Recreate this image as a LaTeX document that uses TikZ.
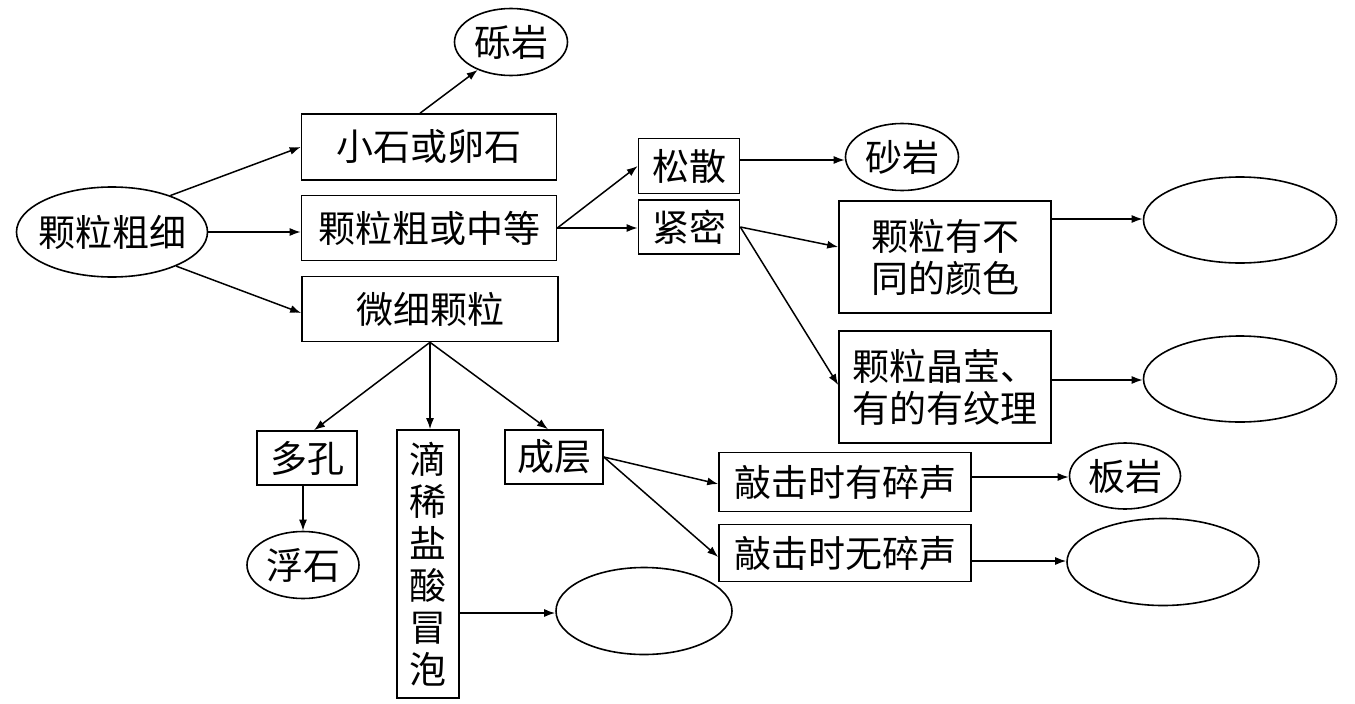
\documentclass[tikz,border=0pt]{standalone}
\usepackage{fontspec}
\newfontfamily\cjk{Noto Sans CJK SC}
\usetikzlibrary{shapes.geometric,arrows.meta}
\begin{document}
\begin{tikzpicture}[x=1pt,y=-1pt,
  every node/.style={font=\cjk\fontsize{37}{42}\selectfont, inner sep=0pt},
  box/.style={draw, line width=1.6pt, rectangle},
  ell/.style={draw, line width=1.6pt, ellipse},
  arr/.style={line width=1.5pt, -{Latex[length=11pt,width=8pt]}}]
\useasboundingbox (0,0) rectangle (1355,704);
% nodes
\node[ell, minimum width=191, minimum height=90] (cx) at (112,232) {\makebox[0pt]{颗粒粗细}};
\node[ell, minimum width=113, minimum height=67] (ly) at (511,42) {砾岩};
\node[box, minimum width=255, minimum height=66] (xs) at (429,147) {小石或卵石};
\node[box, minimum width=255, minimum height=65] (zd) at (429,228) {颗粒粗或中等};
\node[box, minimum width=256, minimum height=65] (wx) at (430,309) {微细颗粒};
\node[box, minimum width=101, minimum height=55] (ss) at (689,166) {松散};
\node[box, minimum width=101, minimum height=54] (jm) at (689,227) {紧密};
\node[ell, minimum width=113, minimum height=67] (sy) at (902,157) {砂岩};
\node[box, minimum width=212, minimum height=112, align=left] (ys) at (945,257) {颗粒有不\\同的颜色};
\node[box, minimum width=212, minimum height=112, align=left] (jy) at (945,387) {颗粒晶莹、\\有的有纹理};
\node[ell, minimum width=193, minimum height=86] (e1) at (1240,220) {};
\node[ell, minimum width=193, minimum height=86] (e2) at (1240,379) {};
\node[box, minimum width=100, minimum height=54] (dk) at (307,458) {多孔};
\node[ell, minimum width=112, minimum height=67] (fs) at (303,565) {浮石};
\node[box, minimum width=62, minimum height=268, align=center] (dx) at (428,564) {滴\\稀\\盐\\酸\\冒\\泡};
\node[box, minimum width=98, minimum height=54] (cc) at (554,457) {成层};
\node[ell, minimum width=176, minimum height=87] (e3) at (644,611) {};
\node[box, minimum width=252, minimum height=59] (qy) at (845,482) {敲击时有碎声};
\node[box, minimum width=252, minimum height=57] (qw) at (845,553) {敲击时无碎声};
\node[ell, minimum width=111, minimum height=66] (by) at (1125,476) {板岩};
\node[ell, minimum width=192, minimum height=87] (e4) at (1163,562) {};
% connectors
\draw[arr] (cx.32) -- (xs.west);
\draw[arr] (cx.east) -- (cx.east -| zd.west);
\draw[arr] (cx.-28) -- ([yshift=-4pt]wx.west);
\draw[arr] ([xshift=-9pt]xs.north) -- (ly.-140);
\draw[arr] (zd.east) -- (ss.west);
\draw[arr] (zd.east) -- (zd.east -| jm.west);
\draw[arr] ([yshift=6pt]ss.east) -- ([yshift=6pt]ss.east -| sy.west);
\draw[arr] (jm.east) -- ([yshift=10pt]ys.west);
\draw[arr] (jm.east) -- ([yshift=2pt]jy.west);
\draw[arr] ([yshift=38pt]ys.east) -- ([yshift=38pt]ys.east -| e1.west);
\draw[arr] ([yshift=7pt]jy.east) -- ([yshift=7pt]jy.east -| e2.west);
\draw[arr] (wx.south) -- ([xshift=7pt]dk.north);
\draw[arr] (wx.south) -- (wx.south |- dx.north);
\draw[arr] (wx.south) -- ([xshift=-6pt]cc.north);
\draw[arr] (fs.north |- dk.south) -- (fs.north);
\draw[arr] ([yshift=-49pt]dx.east) -- ([yshift=-49pt]dx.east -| e3.west);
\draw[arr] (cc.east) -- ([yshift=-2pt]qy.west);
\draw[arr] (cc.east) -- ([yshift=-4pt]qw.west);
\draw[arr] ([yshift=5pt]qy.east) -- ([yshift=5pt]qy.east -| by.west);
\draw[arr] ([yshift=-8pt]qw.east) -- ([yshift=-8pt]qw.east -| e4.west);
\end{tikzpicture}
\end{document}
